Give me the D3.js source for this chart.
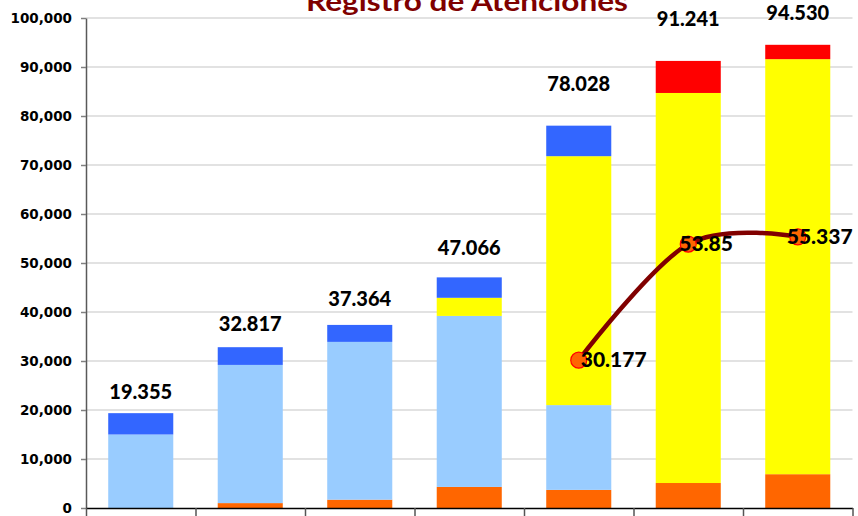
<!DOCTYPE html>
<html>
<head>
<meta charset="utf-8">
<script src="https://cdn.jsdelivr.net/npm/d3@7"></script>
<style>
  body { margin: 0; background: #fff; }
  svg { display: block; }
</style>
</head>
<body>
<script>
// datos
const categories = ["1", "2", "3", "4", "5", "6", "7"];
const naranja    = [0, 1000, 1700, 4300, 3700, 5100, 6900];
const celeste    = [15000, 28200, 32200, 34900, 17300, 0, 0];
const amarillo   = [0, 0, 0, 3700, 50800, 79600, 84700];
const azul       = [4355, 3617, 3464, 4166, 6228, 0, 0];
const rojo       = [0, 0, 0, 0, 0, 6541, 2930];
const totales    = [19355, 32817, 37364, 47066, 78028, 91241, 94530];
const lineaIdx   = [4, 5, 6];
const lineaVals  = [30177, 53850, 55337];
const lineaLabels = ["30.177", "53.85", "55.337"];
const yTicks     = [0, 10000, 20000, 30000, 40000, 50000, 60000, 70000, 80000, 90000, 100000];

const width = 858, height = 516;
const margin = { top: 18, right: 5.5, bottom: 8, left: 86 };

const seriesNames = ["naranja", "celeste", "amarillo", "azul", "rojo"];
const colors = { naranja: "#FF6600", celeste: "#99CCFF", amarillo: "#FFFF00", azul: "#3366FF", rojo: "#FF0000" };
const table = categories.map((c, i) => ({
    cat: i, naranja: naranja[i], celeste: celeste[i], amarillo: amarillo[i], azul: azul[i], rojo: rojo[i]
}));

// separacion de las etiquetas de total (px sobre la barra)
const labelGap = [14, 16, 19, 22, 35, 35, 25];
const lineLabelDx = [2, -9, -11];

const x = d3.scaleBand().domain(d3.range(categories.length))
    .range([margin.left, width - margin.right])
    .paddingInner(0.406).paddingOuter(0.203);
const xb = d3.scaleLinear().domain([0, categories.length]).range([margin.left, width - margin.right]);
const y = d3.scaleLinear().domain([0, 100000]).range([height - margin.bottom, margin.top]);

const svg = d3.select("body").append("svg").attr("width", width).attr("height", height);

// lineas de grilla
svg.append("g").selectAll("line").data(yTicks.slice(1)).join("line")
    .attr("x1", margin.left).attr("x2", width - margin.right)
    .attr("y1", d => y(d)).attr("y2", d => y(d))
    .attr("stroke", "#D9D9D9").attr("stroke-width", 1.5);

// barras apiladas
const stacked = d3.stack().keys(seriesNames)(table);
svg.append("g").selectAll("g").data(stacked).join("g")
    .attr("fill", d => colors[d.key])
    .selectAll("rect").data(d => d).join("rect")
    .attr("x", d => x(d.data.cat))
    .attr("width", x.bandwidth())
    .attr("y", d => y(d[1]))
    .attr("height", d => y(d[0]) - y(d[1]));

// eje y
const gy = svg.append("g").attr("transform", `translate(${margin.left},0)`)
    .call(d3.axisLeft(y).tickValues(yTicks).tickFormat(d3.format(",")).tickSize(5).tickSizeOuter(0).tickPadding(9));
gy.select(".domain").attr("stroke", "#595959").attr("stroke-width", 1.5);
gy.selectAll(".tick line").attr("stroke", "#808080").attr("stroke-width", 1.5);
gy.selectAll("text").attr("font-family", "DejaVu Sans").attr("font-weight", "bold")
    .attr("font-size", 13.5).attr("fill", "#000");

// eje x
const gx = svg.append("g").attr("transform", `translate(0,${height - margin.bottom})`)
    .call(d3.axisBottom(xb).ticks(categories.length).tickFormat("").tickSize(9).tickSizeOuter(0));
gx.select(".domain").attr("stroke", "#000").attr("stroke-width", 1.5);
gx.selectAll(".tick line").attr("stroke", "#555").attr("stroke-width", 1.5);

// etiquetas de total
const fmt = d3.formatLocale({ decimal: ",", thousands: ".", grouping: [3], currency: ["", ""] }).format(",");
svg.append("g").selectAll("text").data(totales).join("text")
    .attr("x", (d, i) => x(i) + x.bandwidth() / 2)
    .attr("y", (d, i) => y(d) - labelGap[i])
    .attr("text-anchor", "middle")
    .attr("font-family", "Lato").attr("font-weight", 900).attr("font-size", 20)
    .attr("fill", "#000")
    .text(d => fmt(d));

// linea
const pts = lineaIdx.map((c, i) => ({ cat: c, value: lineaVals[i], label: lineaLabels[i] }));
const line = d3.line().curve(d3.curveCardinal)
    .x(d => x(d.cat) + x.bandwidth() / 2)
    .y(d => y(d.value));
svg.append("path").datum(pts)
    .attr("fill", "none").attr("stroke", "#800000").attr("stroke-width", 4.5)
    .attr("stroke-linecap", "round").attr("d", line);

svg.append("g").selectAll("circle").data(pts).join("circle")
    .attr("cx", d => x(d.cat) + x.bandwidth() / 2)
    .attr("cy", d => y(d.value))
    .attr("r", 8)
    .attr("fill", "#FF6600").attr("stroke", "#FF0000").attr("stroke-width", 1.2);

svg.append("g").selectAll("text").data(pts).join("text")
    .attr("x", (d, i) => x(d.cat) + x.bandwidth() / 2 + lineLabelDx[i])
    .attr("y", d => y(d.value) + 7)
    .attr("font-family", "Lato").attr("font-weight", 900).attr("font-size", 21)
    .attr("fill", "#000")
    .text(d => d.label);

// titulo
svg.append("text")
    .attr("x", 467).attr("y", 11)
    .attr("text-anchor", "middle")
    .attr("font-family", "Lato").attr("font-weight", "bold").attr("font-size", 26)
    .attr("fill", "#7F0000")
    .attr("textLength", 322).attr("lengthAdjust", "spacingAndGlyphs")
    .text("Registro de Atenciones");
</script>
</body>
</html>
